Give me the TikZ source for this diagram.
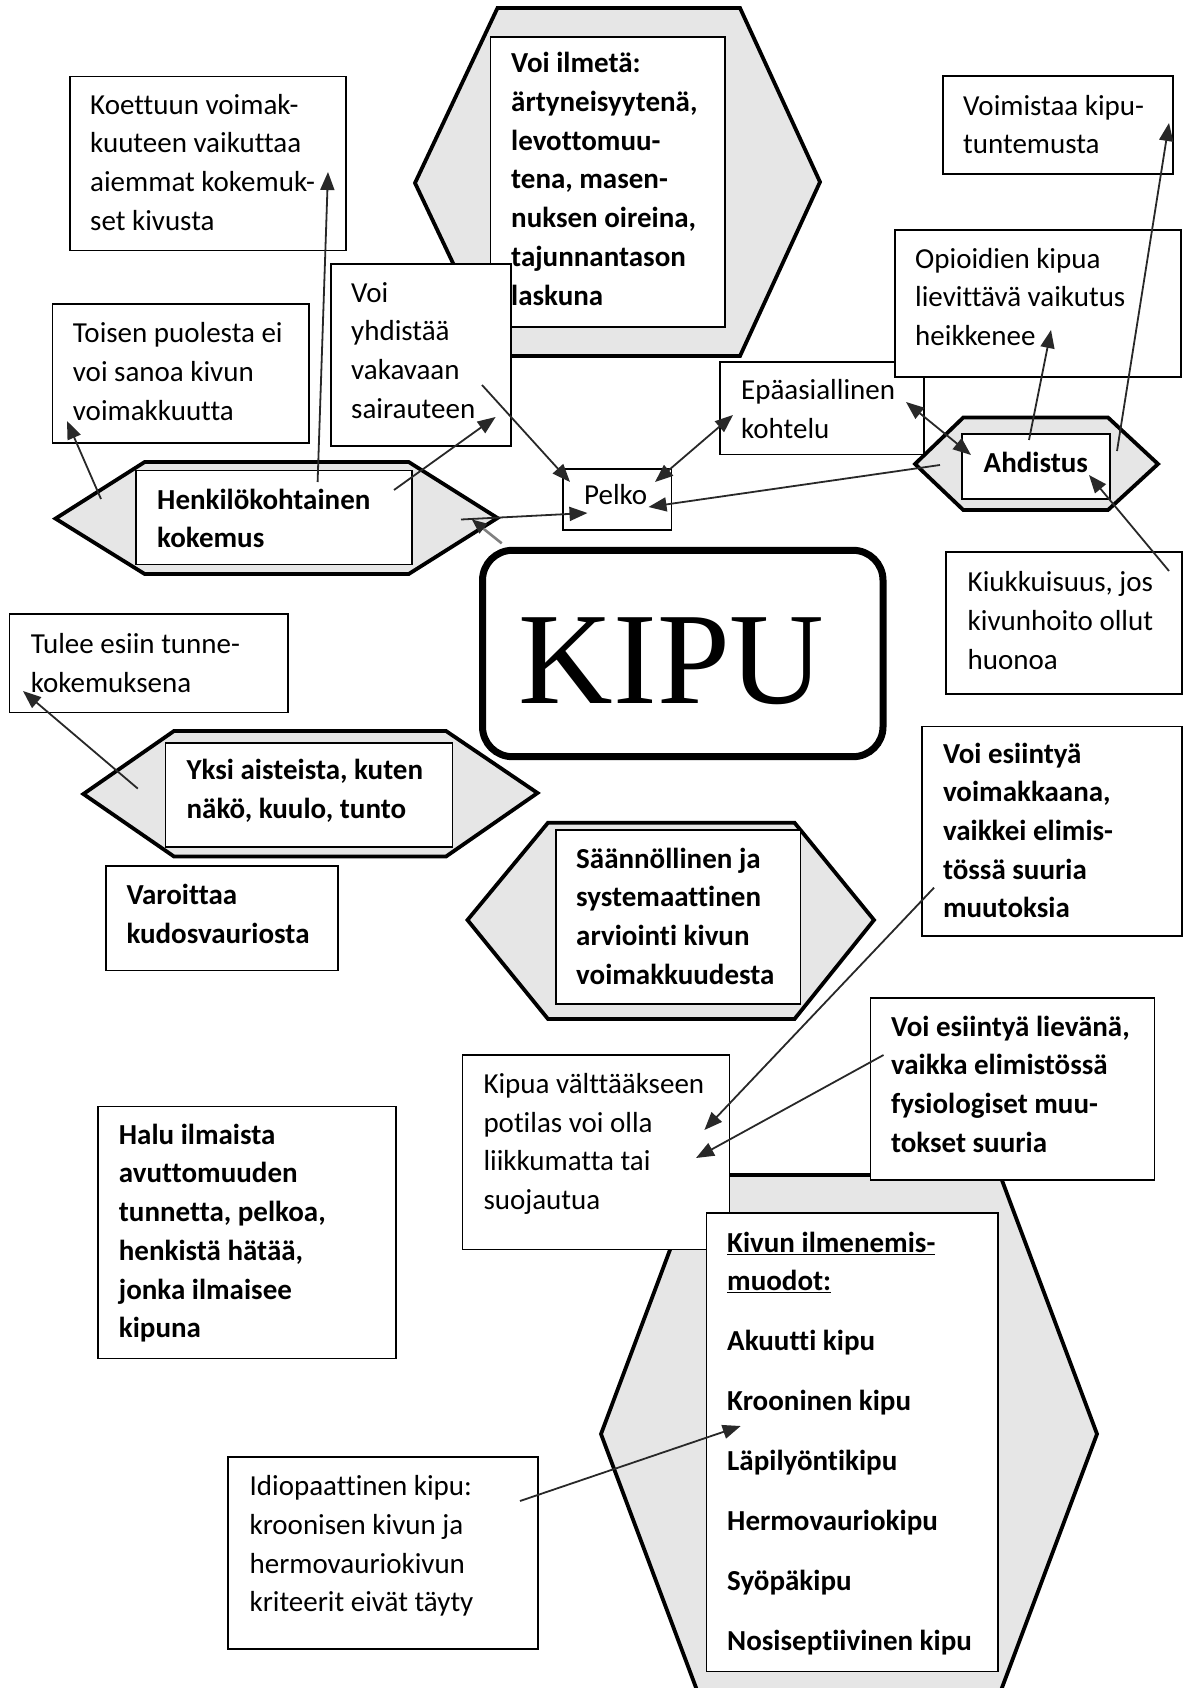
\documentclass[tikz,border=0pt]{standalone}
\usepackage{fontspec}
\setmainfont{Carlito}[Ligatures={NoCommon}]
\newfontfamily\kipufont{Liberation Serif}
\usetikzlibrary{arrows.meta,calc}
\definecolor{hexgray}{RGB}{230,230,230}
\definecolor{arrowc}{RGB}{40,40,40}
\def\sa{27.1}
\begin{document}
\begin{tikzpicture}[x=1pt,y=-1pt,
 box/.style={draw=black, line width=1.2pt, fill=white, anchor=north west, inner sep=0pt, outer sep=0pt},
 txt/.style={anchor=north west, inner sep=0pt, align=left, font=\fontsize{29}{38.7}\selectfont},
 btxt/.style={anchor=north west, inner sep=0pt, align=left, font=\fontsize{29}{38.7}\selectfont\bfseries},
 hex/.style={draw=black, line width=3.8pt, fill=hexgray, line join=miter},
 arr/.style={draw=arrowc, line width=1.8pt, -{Triangle[length=18pt,width=14pt]}},
 darr/.style={draw=arrowc, line width=1.8pt, {Triangle[length=18pt,width=14pt]}-{Triangle[length=18pt,width=14pt]}},
]
\useasboundingbox (0,0) rectangle (1185,1688);

% ---------- top hexagon ----------
\draw[hex] (497.5,8) -- (740,8) -- (820,182) -- (740,356) -- (497,356) -- (415,183) -- cycle;
\node[box, minimum width=234.4pt, minimum height=290pt] (ilmeta) at (490.6,37) {};
\node[btxt] (ilmetaT) at (511,72.7-\sa) {\strut Voi ilmetä:\\ärtyneisyytenä,\\levottomuu-\\tena, masen-\\nuksen oireina,\\tajunnantason\\laskuna};

\node[box, minimum width=180pt, minimum height=182pt] (yhd) at (331,264) {};
\node[txt] (yhdT) at (351,302-\sa) {\strut Voi\\yhdistää\\vakavaan\\sairauteen};

\node[box, minimum width=276pt, minimum height=174pt] (koet) at (70,76.5) {};
\node[txt] (koetT) at (90,114-\sa) {\strut Koettuun voimak-\\kuuteen vaikuttaa\\aiemmat kokemuk-\\set kivusta};

\node[box, minimum width=256.6pt, minimum height=139pt] (tois) at (52.4,304) {};
\node[txt] (toisT) at (72.7,342.5-\sa) {\strut Toisen puolesta ei\\voi sanoa kivun\\voimakkuutta};

% ---------- Henkilokohtainen ----------
\draw[hex] (55.5,518.6) -- (144.7,462) -- (408.7,462) -- (497.5,518) -- (408.7,574) -- (144.7,574) -- cycle;
\node[box, minimum width=276pt, minimum height=94pt] (henk) at (135.9,470.7) {};
\node[btxt] (henkT) at (157,509-\sa) {\strut Henkilökohtainen\\kokemus};

\node[box, minimum width=108.6pt, minimum height=61pt] (pelko) at (563,469) {};
\node[txt] (pelkoT) at (584,504.5-\sa) {\strut Pelko};

\node[box, minimum width=204pt, minimum height=92.5pt] (epa) at (720,362) {};
\node[txt] (epaT) at (741,399.5-\sa) {\strut Epäasiallinen\\kohtelu};

\node[box, minimum width=286pt, minimum height=147pt] (opio) at (895,230) {};
\node[txt] (opioT) at (915,268-\sa) {\strut Opioidien kipua\\lievittävä vaikutus\\heikkenee};

\node[box, minimum width=230pt, minimum height=98pt] (voim) at (943,76) {};
\node[txt] (voimT) at (963,115-\sa) {\strut Voimistaa kipu-\\tuntemusta};

% ---------- Ahdistus ----------
\draw[hex] (915,464) -- (963.3,417.5) -- (1108,417.5) -- (1158,464) -- (1108,510) -- (963.3,510) -- cycle;
\node[box, minimum width=148pt, minimum height=65pt] (ahd) at (962,434) {};
\node[btxt] (ahdT) at (983.5,472-\sa) {\strut Ahdistus};

\node[box, minimum width=236pt, minimum height=142pt] (kiuk) at (946,552) {};
\node[txt] (kiukT) at (967.5,591.5-\sa) {\strut Kiukkuisuus, jos\\kivunhoito ollut\\huonoa};

% ---------- KIPU ----------
\node[draw=black, line width=7pt, rounded corners=30pt, minimum width=400.5pt, minimum height=206.4pt, anchor=north west, inner sep=0pt, fill=white] (kipu) at (479,546.8) {};
\node[font=\kipufont\fontsize{131}{131}\selectfont, anchor=base, inner sep=0pt] (kipuT) at (671.7,703.3) {KIPU};

% ---------- left middle ----------
\node[box, minimum width=278.4pt, minimum height=98.5pt] (tulee) at (9.6,614) {};
\node[txt] (tuleeT) at (30.6,653.6-\sa) {\strut Tulee esiin tunne-\\kokemuksena};

\draw[hex] (83.4,794) -- (174,731) -- (446,731) -- (537.5,793) -- (446,856.5) -- (174,856.5) -- cycle;
\node[box, minimum width=287pt, minimum height=104pt] (yksi) at (165.7,743) {};
\node[btxt] (yksiT) at (186.4,779.6-\sa) {\strut Yksi aisteista, kuten\\näkö, kuulo, tunto};

\node[box, minimum width=232pt, minimum height=104.7pt] (varo) at (106,866) {};
\node[btxt] (varoT) at (126.3,904.6-\sa) {\strut Varoittaa\\kudosvauriosta};

% ---------- Saannollinen ----------
\draw[hex] (467.5,920) -- (548,822.7) -- (794.5,822.7) -- (874,920) -- (794.5,1019) -- (548,1019) -- cycle;
\node[box, minimum width=244.7pt, minimum height=174pt] (saan) at (556,830) {};
\node[btxt] (saanT) at (576,868-\sa) {\strut Säännöllinen ja\\systemaattinen\\arviointi kivun\\voimakkuudesta};

\node[box, minimum width=260pt, minimum height=209.3pt] (vkk) at (922,726.7) {};
\node[btxt] (vkkT) at (942.8,763-\sa) {\strut Voi esiintyä\\voimakkaana,\\vaikkei elimis-\\tössä suuria\\muutoksia};

% ---------- bottom hexagon ----------
\begin{scope}
\clip (0,0) rectangle (1185,1688);
\draw[hex] (698,1175) -- (1000,1175) -- (1097,1434) -- (1000,1693) -- (698,1693) -- (601,1434) -- cycle;
\end{scope}

\node[box, minimum width=266.6pt, minimum height=194.3pt] (kipua) at (462.7,1055) {};
\node[txt] (kipuaT) at (483.3,1093.3-\sa) {\strut Kipua välttääkseen\\potilas voi olla\\liikkumatta tai\\suojautua};

\node[box, minimum width=284pt, minimum height=182pt] (liev) at (870.5,998) {};
\node[btxt] (lievT) at (890.8,1036-\sa) {\strut Voi esiintyä lievänä,\\vaikka elimistössä\\fysiologiset muu-\\tokset suuria};

\node[box, minimum width=291.5pt, minimum height=458.7pt] (kivun) at (706.5,1213) {};
\node[btxt] (kivunT) at (727,1252-\sa) {\strut \underline{Kivun ilmenemis-}\\\underline{muodot:}\\[21.3pt]Akuutti kipu\\[21.3pt]Krooninen kipu\\[21.3pt]Läpilyöntikipu\\[21.3pt]Hermovauriokipu\\[21.3pt]Syöpäkipu\\[21.3pt]Nosiseptiivinen kipu};

\node[box, minimum width=298pt, minimum height=252pt] (halu) at (98,1106.7) {};
\node[btxt] (haluT) at (118.7,1144-\sa) {\strut Halu ilmaista\\avuttomuuden\\tunnetta, pelkoa,\\henkistä hätää,\\jonka ilmaisee\\kipuna};

\node[box, minimum width=310pt, minimum height=192pt] (idio) at (228,1457) {};
\node[txt] (idioT) at (249.4,1495.6-\sa) {\strut Idiopaattinen kipu:\\kroonisen kivun ja\\hermovauriokivun\\kriteerit eivät täyty};

% ---------- connector end points ----------
\coordinate (henkA) at (317.6,482);   \coordinate (koetA) at (328,172);
\coordinate (henkB) at (101,499);     \coordinate (toisA) at (67,421);
\coordinate (henkC) at (394,490);     \coordinate (yhdA) at (495.6,417);
\coordinate (yhdB) at (482,385);      \coordinate (pelkoA) at (570,482);
\coordinate (henkD) at (461,519.5);   \coordinate (pelkoB) at (587.5,513);
\coordinate (kipuA) at (501.7,543.3); \coordinate (henkE) at (471.7,519.3);
\coordinate (pelkoC) at (655,482);    \coordinate (epaA) at (733,415);
\coordinate (epaB) at (906,402);      \coordinate (ahdA) at (971,455);
\coordinate (ahdB) at (940,465);      \coordinate (pelkoD) at (648.5,507);
\coordinate (ahdC) at (1029,440);     \coordinate (opioA) at (1051,330);
\coordinate (ahdD) at (1117,451);     \coordinate (voimA) at (1169,123);
\coordinate (kiukA) at (1169,571);    \coordinate (ahdE) at (1089,475);
\coordinate (yksiA) at (137.8,788.6); \coordinate (tuleeA) at (23,691);
\coordinate (vkkA) at (934,887.7);    \coordinate (kipuaA) at (704.4,1130);
\coordinate (lievA) at (883.5,1055);  \coordinate (kipuaB) at (696,1158);
\coordinate (idioA) at (520,1501);    \coordinate (kivunA) at (740.7,1426);

% ---------- connectors ----------
\draw[arr] (henkA) -- (koetA);
\draw[arr] (henkB) -- (toisA);
\draw[arr] (henkC) -- (yhdA);
\draw[arr] (yhdB) -- (pelkoA);
\draw[arr] (henkD) -- (pelkoB);
\draw[draw=gray, line width=2.6pt, -{Triangle[length=15pt,width=12pt,color=arrowc]}] (kipuA) -- (henkE);
\draw[darr] (pelkoC) -- (epaA);
\draw[darr] (epaB) -- (ahdA);
\draw[arr] (ahdB) -- (pelkoD);
\draw[arr] (ahdC) -- (opioA);
\draw[arr] (ahdD) -- (voimA);
\draw[arr] (kiukA) -- (ahdE);
\draw[arr] (yksiA) -- (tuleeA);
\draw[arr] (vkkA) -- (kipuaA);
\draw[arr] (lievA) -- (kipuaB);
\draw[arr] (idioA) -- (kivunA);
\end{tikzpicture}
\end{document}
